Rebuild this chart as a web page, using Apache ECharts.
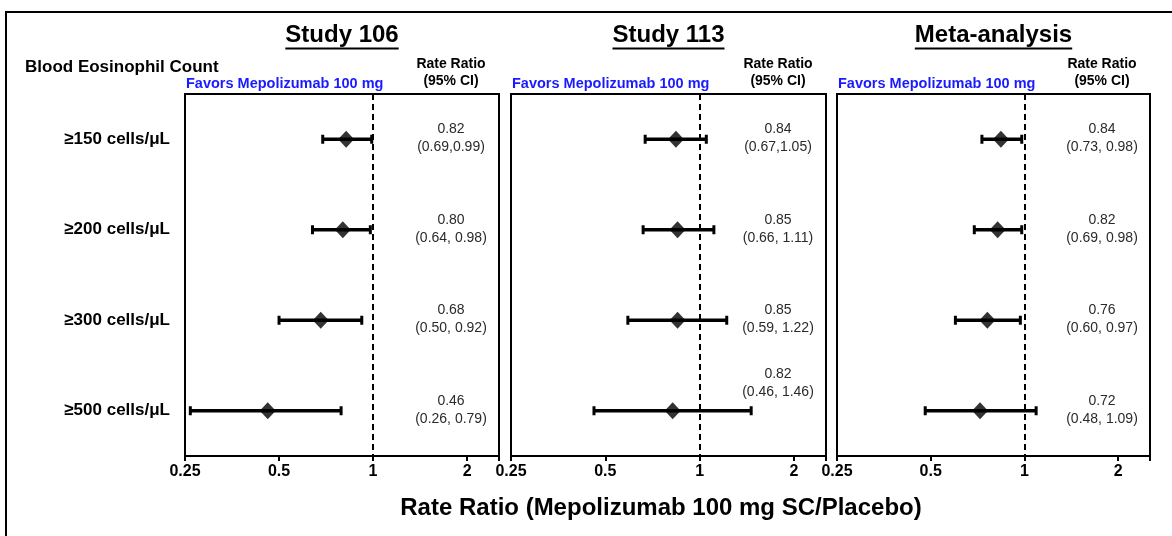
<!DOCTYPE html>
<html><head><meta charset="utf-8">
<script src="https://cdn.jsdelivr.net/npm/echarts@6/dist/echarts.min.js"></script>
<style>html,body{margin:0;padding:0;background:#fff}#c{width:1172px;height:536px}</style>
</head><body><div id="c"></div>
<script>
// ---------------- data ----------------
const categories = ['≥150 cells/μL', '≥200 cells/μL', '≥300 cells/μL', '≥500 cells/μL'];
const panelTitles = ['Study 106', 'Study 113', 'Meta-analysis'];

const est106 = [0.82, 0.80, 0.68, 0.46];
const low106 = [0.69, 0.64, 0.50, 0.26];
const high106 = [0.99, 0.98, 0.92, 0.79];
const ciText106 = ['(0.69,0.99)', '(0.64, 0.98)', '(0.50, 0.92)', '(0.26, 0.79)'];

const est113 = [0.84, 0.85, 0.85, 0.82];
const low113 = [0.67, 0.66, 0.59, 0.46];
const high113 = [1.05, 1.11, 1.22, 1.46];
const ciText113 = ['(0.67,1.05)', '(0.66, 1.11)', '(0.59, 1.22)', '(0.46, 1.46)'];

const estMeta = [0.84, 0.82, 0.76, 0.72];
const lowMeta = [0.73, 0.69, 0.60, 0.48];
const highMeta = [0.98, 0.98, 0.97, 1.09];
const ciTextMeta = ['(0.73, 0.98)', '(0.69, 0.98)', '(0.60, 0.97)', '(0.48, 1.09)'];

const tickValues = [0.25, 0.5, 1, 2];
const refValue = 1;
const axisMin = 0.25, axisMax = 2.53;

const rowHeader = 'Blood Eosinophil Count';
const favorsText = 'Favors Mepolizumab 100 mg';
const colHeader = 'Rate Ratio\n(95% CI)';
const xAxisTitle = 'Rate Ratio (Mepolizumab 100 mg SC/Placebo)';

// ---------------- layout ----------------
const FONT = '"Liberation Sans", Arial, sans-serif';
const panels = [
  {est: est106, low: low106, high: high106, ci: ciText106},
  {est: est113, low: low113, high: high113, ci: ciText113},
  {est: estMeta, low: lowMeta, high: highMeta, ci: ciTextMeta}
];
const gridLefts = [185, 511, 837];
const gridWidths = [314, 315, 313];
const gridTop = 94, gridHeight = 362;
const textFromRight = 48;

const chart = echarts.init(document.getElementById('c'), null, {renderer: 'canvas'});

const grids = [], xAxes = [], yAxes = [], series = [], graphics = [];

const mctx = document.createElement('canvas').getContext('2d');
function textWidth(t, font) { mctx.font = font; return mctx.measureText(t).width; }

graphics.push({type: 'rect', shape: {x: 6, y: 12, width: 1200, height: 600},
  style: {fill: null, stroke: '#000', lineWidth: 2}, silent: true});

panels.forEach((p, i) => {
  grids.push({left: gridLefts[i], top: gridTop, width: gridWidths[i], height: gridHeight,
    show: true, borderColor: '#000', borderWidth: 2, backgroundColor: 'transparent'});
  xAxes.push({
    type: 'log', logBase: 2, gridIndex: i, min: axisMin, max: axisMax,
    axisLine: {show: true, lineStyle: {color: '#000', width: 2}},
    axisTick: {show: true, length: 5, lineStyle: {color: '#000', width: 2}},
    splitLine: {show: false},
    axisLabel: {
      color: '#000', fontSize: 16, fontWeight: 'bold', fontFamily: FONT, margin: 8,
      formatter: v => { const t = tickValues.find(t => Math.abs(t - v) < 1e-6); return t === undefined ? '' : String(t); }
    }
  });
  yAxes.push({
    type: 'category', gridIndex: i, data: categories, inverse: true,
    axisLine: {show: false}, axisTick: {show: false}, splitLine: {show: false},
    axisLabel: {show: i === 0, color: '#000', fontSize: 17, fontWeight: 'bold', fontFamily: FONT, margin: 15}
  });

  // CI bars
  series.push({
    type: 'custom', xAxisIndex: i, yAxisIndex: i, silent: true,
    encode: {x: [0, 1], y: 2},
    data: p.low.map((l, k) => [l, p.high[k], k]),
    renderItem: (params, api) => {
      const a = api.coord([api.value(0), api.value(2)]);
      const b = api.coord([api.value(1), api.value(2)]);
      const st = {stroke: '#000', lineWidth: 3};
      return {type: 'group', children: [
        {type: 'line', shape: {x1: a[0], y1: a[1], x2: b[0], y2: b[1]}, style: {stroke: '#000', lineWidth: 3.5}},
        {type: 'line', shape: {x1: a[0], y1: a[1] - 4.5, x2: a[0], y2: a[1] + 4.5}, style: st},
        {type: 'line', shape: {x1: b[0], y1: b[1] - 4.5, x2: b[0], y2: b[1] + 4.5}, style: st}
      ]};
    }
  });

  // point estimates + reference line
  series.push({
    type: 'scatter', xAxisIndex: i, yAxisIndex: i, silent: true, z: 5,
    symbol: 'diamond', symbolSize: [16, 17], itemStyle: {color: '#000'},
    data: p.est.map((e, k) => [e, k]),
    markLine: {silent: true, symbol: ['none', 'none'], label: {show: false},
      lineStyle: {type: [6, 4], color: '#000', width: 2}, data: [{xAxis: refValue}]}
  });

  // value labels
  const labelFont = '14px ' + FONT;
  series.push({
    type: 'custom', xAxisIndex: i, yAxisIndex: i, silent: true,
    encode: {x: 0, y: 1},
    data: p.est.map((e, k) => [e, k, p.high[k]]),
    renderItem: (params, api) => {
      const k = params.dataIndex;
      const txt = p.est[k].toFixed(2) + '\n' + p.ci[k];
      const cs = params.coordSys;
      const tx = cs.x + cs.width - textFromRight;
      const row = api.coord([api.value(0), api.value(1)])[1];
      const hi = api.coord([api.value(2), api.value(1)])[0];
      const half = textWidth(p.ci[k], labelFont) / 2;
      const shift = hi > tx - half - 4 ? -27 : 0;
      return {type: 'text', x: tx, y: row + shift - 1,
        style: {text: txt, textAlign: 'center', textVerticalAlign: 'middle', font: labelFont, lineHeight: 18, fill: '#2a2a2a'}};
    }
  });

  const cx = gridLefts[i] + gridWidths[i] / 2;
  const titleFont = 'bold 24px ' + FONT;
  const tw = textWidth(panelTitles[i], titleFont);
  graphics.push({type: 'text', x: cx, y: 35, silent: true,
    style: {text: panelTitles[i], font: titleFont, fill: '#000', textAlign: 'center', textVerticalAlign: 'middle'}});
  graphics.push({type: 'line', silent: true, shape: {x1: cx - tw / 2, y1: 48.5, x2: cx + tw / 2, y2: 48.5},
    style: {stroke: '#000', lineWidth: 2}});
  graphics.push({type: 'text', x: gridLefts[i] + 1, y: 84, silent: true,
    style: {text: favorsText, font: 'bold 14.5px ' + FONT, fill: '#1a1aff', textAlign: 'left', textVerticalAlign: 'middle'}});
  graphics.push({type: 'text', x: gridLefts[i] + gridWidths[i] - textFromRight, y: 73, silent: true,
    style: {text: colHeader, font: 'bold 14px ' + FONT, lineHeight: 17, fill: '#000', textAlign: 'center', textVerticalAlign: 'middle'}});
});

graphics.push({type: 'text', x: 25, y: 67, silent: true,
  style: {text: rowHeader, font: 'bold 17px ' + FONT, fill: '#000', textAlign: 'left', textVerticalAlign: 'middle'}});
graphics.push({type: 'text', x: 661, y: 508, silent: true,
  style: {text: xAxisTitle, font: 'bold 24px ' + FONT, fill: '#000', textAlign: 'center', textVerticalAlign: 'middle'}});

chart.setOption({
  animation: false,
  backgroundColor: '#fff',
  grid: grids, xAxis: xAxes, yAxis: yAxes, series: series,
  graphic: graphics
});
</script></body></html>
